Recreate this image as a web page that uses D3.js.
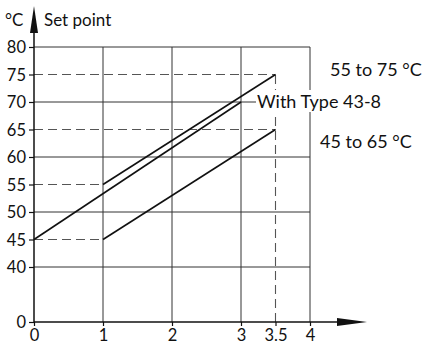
<!DOCTYPE html>
<html>
<head>
<meta charset="utf-8">
<script src="https://cdn.jsdelivr.net/npm/d3@7"></script>
<style>
  body { margin: 0; background: #fff; }
  svg { display: block; font-family: Lato, "Noto Sans", sans-serif; }
</style>
</head>
<body>
<svg id="chart" width="426" height="346"></svg>
<script>
// values
var xTicks = [0, 1, 2, 3, 3.5, 4];
var yTicks = [0, 40, 45, 50, 55, 60, 65, 70, 75, 80];
var gridX = [1, 2, 3, 4];
var gridY = [40, 50, 60, 70, 80];

var line5575 = [[1, 55], [3.5, 75]];
var lineType438 = [[0, 45], [3, 70]];
var line4565 = [[1, 45], [3.5, 65]];

var guides = [
	[[0, 75], [3.5, 75]],
	[[0, 65], [3.5, 65]],
	[[0, 55], [1, 55]],
	[[0, 45], [1, 45]],
	[[3.5, 0], [3.5, 75]]
];

var labels = ['55 to 75 °C', 'With Type 43-8', '45 to 65 °C'];

var svg = d3.select('#chart');

// y axis is broken: 0..40 squeezed, 40..80 open
var x = d3.scaleLinear().domain([0, 4]).range([34, 310]);
var y = d3.scaleLinear().domain([0, 40, 80]).range([322, 267, 47]);

var line = d3.line().x(function(d){ return x(d[0]); }).y(function(d){ return y(d[1]); });

// grid
svg.selectAll('line.gy').data(gridY).enter().append('line')
	.attr('x1', x(0)).attr('x2', x(4))
	.attr('y1', function(d){ return y(d); }).attr('y2', function(d){ return y(d); })
	.attr('stroke', '#333').attr('stroke-width', 1);

svg.selectAll('line.gx').data(gridX).enter().append('line')
	.attr('x1', function(d){ return x(d); }).attr('x2', function(d){ return x(d); })
	.attr('y1', y(0)).attr('y2', y(80))
	.attr('stroke', '#333').attr('stroke-width', 1);

// dashed guides
svg.selectAll('path.guide').data(guides).enter().append('path')
	.attr('d', line)
	.attr('fill', 'none').attr('stroke', '#555').attr('stroke-width', 1.1)
	.attr('stroke-dasharray', '9,5');

// axes
var yAxis = d3.axisLeft(y).tickValues(yTicks).tickSize(5).tickFormat(d3.format('d'));
var xAxis = d3.axisBottom(x).tickValues(xTicks).tickSize(4).tickFormat(function(d){ return d; });

var gy = svg.append('g').attr('transform', 'translate(' + x(0) + ',0)').call(yAxis);
var gx = svg.append('g').attr('transform', 'translate(0,' + y(0) + ')').call(xAxis);

[gx, gy].forEach(function(g){
	g.select('.domain').remove();
	g.selectAll('.tick line').attr('stroke', '#111').attr('stroke-width', 1.2);
	g.selectAll('.tick text').attr('fill', '#111').style('font-size', '16.5px').style('font-family', 'Lato, "Noto Sans", sans-serif');
});
gy.selectAll('.tick text').attr('x', -8).attr('dy', '0.36em');
gx.selectAll('.tick text').attr('y', 7).attr('dy', '0.75em');

// axis lines with arrowheads
svg.append('line').attr('x1', x(0)).attr('x2', x(0)).attr('y1', y(0)).attr('y2', 30)
	.attr('stroke', '#111').attr('stroke-width', 1.5);
svg.append('path').attr('d', 'M' + (x(0) - 4) + ',33L' + x(0) + ',6L' + (x(0) + 4) + ',33Z').attr('fill', '#111');

svg.append('line').attr('x1', x(0)).attr('x2', 340).attr('y1', y(0)).attr('y2', y(0))
	.attr('stroke', '#111').attr('stroke-width', 1.5);
svg.append('path').attr('d', 'M337,' + (y(0) - 4) + 'L367,' + y(0) + 'L337,' + (y(0) + 4) + 'Z').attr('fill', '#111');

// series
[line5575, lineType438, line4565].forEach(function(s){
	svg.append('path').attr('d', line(s))
		.attr('fill', 'none').attr('stroke', '#111').attr('stroke-width', 1.6);
});

// titles
svg.append('text').attr('x', 5).attr('y', 26).text('°C').style('font-size', '17px').attr('fill', '#111');
svg.append('text').attr('x', 44).attr('y', 26).text('Set point').style('font-size', '17px').attr('fill', '#111');

// right side labels
var lab = svg.append('g').style('font-size', '18px').attr('fill', '#111');
lab.append('text').attr('x', 330).attr('y', 76).text(labels[0]);
var t = lab.append('text').attr('x', 257).attr('y', 108).text(labels[1]);
var bb = t.node().getBBox();
lab.insert('rect', 'text:nth-child(2)')
	.attr('x', bb.x - 1).attr('y', bb.y).attr('width', bb.width + 2).attr('height', bb.height)
	.attr('fill', '#fff');
lab.append('text').attr('x', 320).attr('y', 148).text(labels[2]);
</script>
</body>
</html>
